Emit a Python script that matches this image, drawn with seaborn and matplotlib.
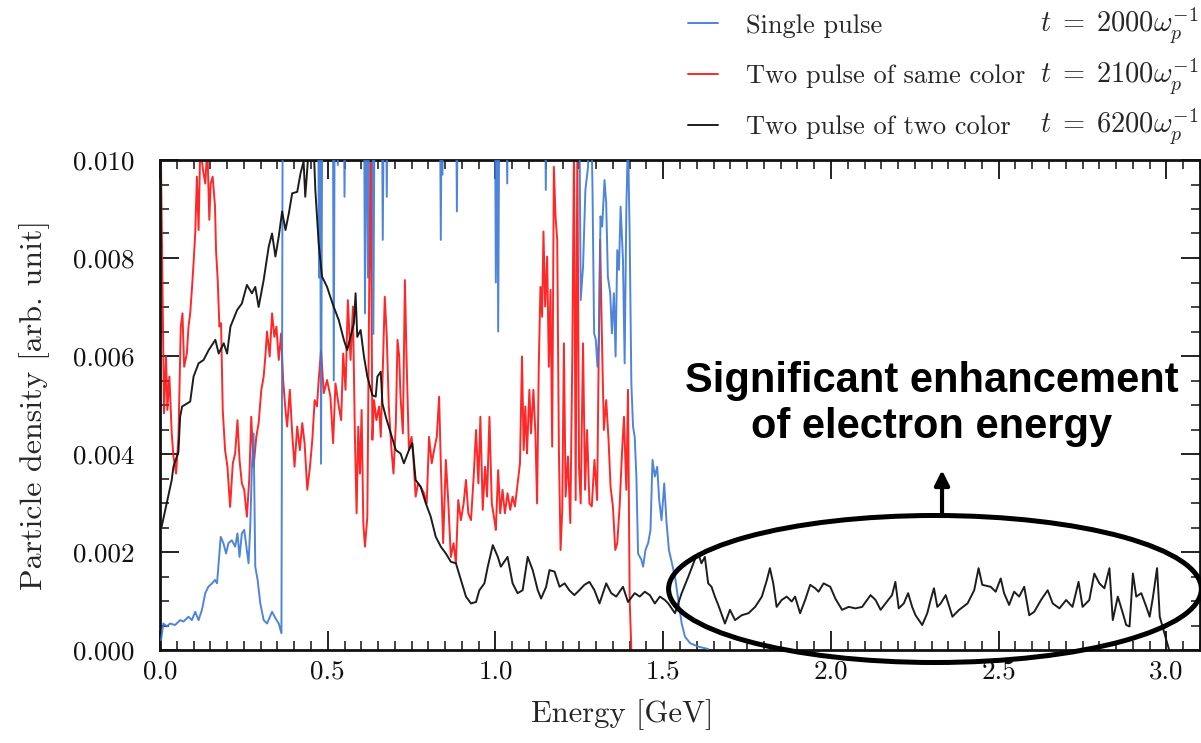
import numpy as np
import pandas as pd
import matplotlib
matplotlib.use("Agg")
import matplotlib.pyplot as plt
from matplotlib.patches import Ellipse
from matplotlib.ticker import MultipleLocator, FormatStrFormatter
import seaborn as sns

# ---------------------------------------------------------------------------
# Electron energy spectra (density in units of 1e-3, energy in GeV).
# Values above 10 lie outside the plotted range.
# ---------------------------------------------------------------------------
single_energy = [
    0.003, 0.010, 0.020, 0.030, 0.045, 0.060, 0.070, 0.085, 0.095, 0.105,
    0.115, 0.125, 0.135, 0.144, 0.155, 0.164, 0.170, 0.174, 0.181, 0.189,
    0.197, 0.204, 0.214, 0.224, 0.231, 0.237, 0.244, 0.251, 0.259, 0.264,
    0.269, 0.274, 0.279, 0.284, 0.291, 0.299, 0.309, 0.319, 0.334, 0.344,
    0.354, 0.362, 0.366,
    0.471, 0.474, 0.477, 0.480, 0.484, 0.515, 0.518, 0.521, 0.527, 0.530,
    0.533, 0.547, 0.550, 0.553, 0.608, 0.611, 0.615, 0.620, 0.624, 0.633,
    0.636, 0.640, 0.661, 0.664, 0.668, 0.673, 0.676, 0.679, 0.834, 0.837,
    0.840, 0.842, 0.846, 0.882, 0.885, 0.888, 0.998, 1.001, 1.005, 1.008,
    1.012, 1.032, 1.035, 1.038, 1.147, 1.150, 1.153, 1.249,
    1.254, 1.261, 1.268, 1.276, 1.282, 1.289, 1.294, 1.299, 1.304, 1.309,
    1.313, 1.318, 1.325, 1.330, 1.335, 1.342, 1.347, 1.353, 1.358, 1.363,
    1.368, 1.373, 1.380, 1.385, 1.390, 1.395, 1.400, 1.405, 1.410, 1.415,
    1.420, 1.425, 1.435, 1.440, 1.447, 1.455, 1.462, 1.468, 1.475, 1.482,
    1.488, 1.495, 1.503, 1.510, 1.517, 1.525, 1.535, 1.545, 1.555, 1.565,
    1.580, 1.604, 1.634,
]
single_density = [
    0.20, 0.54, 0.48, 0.54, 0.51, 0.61, 0.58, 0.68, 0.61, 0.78,
    0.61, 0.82, 1.16, 1.29, 1.36, 1.43, 1.36, 1.70, 2.31, 2.18,
    1.97, 2.18, 2.24, 2.11, 2.38, 1.90, 2.38, 2.45, 2.04, 1.77,
    2.52, 3.74, 4.42, 1.70, 1.43, 0.95, 0.61, 0.54, 0.78, 0.65,
    0.54, 0.34, 12.0,
    12.0, 7.60, 11.0, 3.80, 12.0, 12.0, 5.50, 12.0, 12.0, 9.90,
    12.0, 12.0, 9.25, 12.0, 12.0, 6.87, 12.0, 7.60, 12.0, 12.0,
    6.45, 12.0, 12.0, 8.37, 12.0, 12.0, 9.25, 12.0, 12.0, 8.37,
    12.0, 9.70, 12.0, 12.0, 8.95, 12.0, 12.0, 7.50, 12.0, 6.50,
    12.0, 12.0, 9.52, 12.0, 12.0, 9.39, 12.0, 12.0,
    7.14, 7.82, 9.39, 9.86, 12.0, 9.52, 6.46, 6.33, 5.78, 6.46,
    8.85, 8.64, 9.59, 9.12, 7.62, 7.28, 6.46, 7.28, 5.99, 8.16,
    7.76, 9.05, 7.96, 5.85, 8.98, 10.5, 8.43, 5.44, 4.56, 4.35,
    3.54, 1.97, 1.84, 1.70, 2.04, 2.18, 2.45, 3.88, 3.54, 3.74,
    3.06, 2.65, 3.40, 2.59, 2.04, 1.80, 1.50, 1.02, 0.54, 0.27,
    0.14, 0.07, 0.02,
]

same_color_energy = [
    0.002, 0.008, 0.012, 0.018, 0.022, 0.028, 0.035, 0.040, 0.048, 0.055,
    0.062, 0.067, 0.072, 0.080, 0.085, 0.090, 0.095, 0.100, 0.105, 0.110,
    0.115, 0.120, 0.128, 0.135, 0.141, 0.147, 0.151, 0.157, 0.164, 0.167,
    0.172, 0.177, 0.182, 0.187, 0.194, 0.201, 0.209, 0.217, 0.224, 0.231,
    0.237, 0.244, 0.251, 0.259, 0.266, 0.272, 0.279, 0.287, 0.294, 0.302,
    0.309, 0.314, 0.319, 0.327, 0.334, 0.341, 0.347, 0.354, 0.361, 0.367,
    0.374, 0.379, 0.387, 0.394, 0.401, 0.409, 0.417, 0.424, 0.431, 0.439,
    0.447, 0.454, 0.461, 0.468, 0.473, 0.480, 0.488, 0.498, 0.508, 0.516,
    0.523, 0.533, 0.540, 0.546, 0.553, 0.560, 0.568, 0.575, 0.581, 0.586,
    0.591, 0.596, 0.601, 0.606, 0.611, 0.618, 0.625, 0.628, 0.633, 0.638,
    0.645, 0.653, 0.658, 0.663, 0.670, 0.676, 0.682, 0.690, 0.696, 0.703,
    0.708, 0.713, 0.717, 0.724, 0.730, 0.735, 0.742, 0.750, 0.755, 0.762,
    0.769, 0.777, 0.787, 0.795, 0.802, 0.810, 0.817, 0.825, 0.832, 0.837,
    0.844, 0.852, 0.859, 0.867, 0.875, 0.882, 0.889, 0.897, 0.905, 0.912,
    0.919, 0.927, 0.935, 0.942, 0.949, 0.955, 0.962, 0.969, 0.975, 0.982,
    0.989, 0.997, 1.001, 1.008, 1.014, 1.021, 1.028, 1.036, 1.044, 1.051,
    1.058, 1.066, 1.073, 1.079, 1.084, 1.089, 1.094, 1.101, 1.106, 1.113,
    1.119, 1.124, 1.129, 1.134, 1.139, 1.143, 1.148, 1.154, 1.159, 1.164,
    1.169, 1.174, 1.179, 1.184, 1.189, 1.194, 1.199, 1.204, 1.209, 1.216,
    1.223, 1.229, 1.234, 1.239, 1.244, 1.249, 1.254, 1.261, 1.267, 1.273,
    1.280, 1.287, 1.295, 1.303, 1.308, 1.312, 1.317, 1.323, 1.330, 1.337,
    1.343, 1.350, 1.357, 1.363, 1.370, 1.377, 1.383, 1.390, 1.395, 1.400,
    1.405,
]
same_color_density = [
    10.5, 7.14, 4.83, 5.99, 4.90, 5.58, 4.42, 3.95, 3.60, 4.35,
    6.60, 6.87, 5.78, 6.05, 6.60, 6.87, 7.35, 7.89, 8.50, 9.66,
    8.57, 10.3, 9.80, 9.52, 10.3, 8.78, 9.52, 9.66, 9.05, 8.16,
    7.55, 6.60, 6.67, 4.90, 4.08, 3.74, 2.92, 3.81, 4.01, 4.69,
    3.88, 3.40, 3.27, 2.72, 3.47, 4.76, 3.74, 4.35, 4.63, 5.31,
    5.58, 5.99, 6.50, 5.99, 6.87, 6.39, 6.60, 5.92, 6.46, 5.51,
    4.90, 4.56, 5.31, 4.42, 3.74, 4.56, 4.08, 4.63, 4.22, 3.27,
    3.74, 4.29, 5.10, 4.97, 5.51, 6.12, 5.24, 5.51, 5.17, 4.22,
    5.44, 4.97, 4.69, 6.05, 5.31, 7.14, 5.92, 7.01, 4.35, 2.79,
    4.56, 3.60, 4.90, 2.59, 2.11, 2.72, 8.50, 10.3, 4.29, 5.10,
    4.69, 4.97, 4.35, 5.44, 7.21, 6.39, 4.97, 4.08, 3.60, 4.63,
    6.33, 5.99, 5.17, 4.42, 7.55, 5.92, 4.08, 4.35, 3.95, 3.13,
    3.40, 3.33, 3.20, 2.99, 4.35, 3.81, 4.08, 4.35, 5.17, 3.81,
    2.18, 3.88, 3.06, 1.90, 2.18, 1.77, 3.06, 2.65, 2.99, 3.47,
    2.79, 2.65, 3.54, 4.49, 3.40, 4.76, 2.86, 3.74, 3.13, 4.76,
    2.99, 2.65, 2.45, 3.67, 2.79, 3.27, 2.79, 3.20, 2.86, 3.13,
    2.93, 3.40, 3.81, 5.99, 4.08, 4.97, 4.01, 5.31, 4.42, 5.31,
    4.42, 2.99, 5.78, 7.41, 6.80, 8.54, 7.01, 8.03, 5.78, 7.35,
    4.15, 9.86, 8.85, 8.37, 4.08, 2.04, 2.86, 6.26, 3.13, 3.95,
    2.59, 5.99, 10.3, 3.06, 10.3, 3.74, 2.99, 6.26, 3.27, 4.49,
    2.99, 2.93, 3.88, 3.06, 6.26, 8.37, 6.46, 4.49, 5.10, 4.29,
    3.33, 2.93, 2.04, 2.18, 2.93, 4.01, 4.76, 3.27, 5.31, 1.02,
    0.00,
]

two_color_energy = [
    0.005, 0.020, 0.035, 0.040, 0.055, 0.060, 0.066, 0.090, 0.100, 0.115,
    0.130, 0.145, 0.165, 0.175, 0.190, 0.200, 0.210, 0.230, 0.244, 0.259,
    0.274, 0.284, 0.294, 0.309, 0.324, 0.334, 0.344, 0.354, 0.364, 0.374,
    0.384, 0.394, 0.409, 0.419, 0.428, 0.433, 0.443, 0.458, 0.463, 0.473,
    0.483, 0.498, 0.508, 0.518, 0.533, 0.548, 0.558, 0.578, 0.583, 0.588,
    0.598, 0.608, 0.618, 0.633, 0.643, 0.648, 0.658, 0.663, 0.673, 0.688,
    0.703, 0.717, 0.727, 0.742, 0.752, 0.762, 0.777, 0.792, 0.807, 0.822,
    0.837, 0.852, 0.867, 0.882, 0.897, 0.912, 0.927, 0.942, 0.952, 0.967,
    0.977, 0.992, 1.007, 1.016, 1.036, 1.051, 1.066, 1.081, 1.096, 1.111,
    1.126, 1.136, 1.151, 1.161, 1.176, 1.191, 1.206, 1.220, 1.235, 1.250,
    1.265, 1.280, 1.295, 1.310, 1.330, 1.345, 1.360, 1.380, 1.395, 1.415,
    1.430, 1.445, 1.460, 1.475, 1.490, 1.505, 1.515, 1.525, 1.535, 1.555,
    1.575, 1.594, 1.604, 1.614, 1.624, 1.634, 1.644, 1.654, 1.664, 1.684,
    1.699, 1.714, 1.734, 1.754, 1.774, 1.794, 1.809, 1.818, 1.828, 1.838,
    1.853, 1.868, 1.883, 1.893, 1.908, 1.923, 1.938, 1.953, 1.963, 1.978,
    1.998, 2.013, 2.033, 2.053, 2.073, 2.093, 2.118, 2.133, 2.148, 2.167,
    2.182, 2.192, 2.202, 2.217, 2.230, 2.242, 2.252, 2.272, 2.287, 2.297,
    2.307, 2.317, 2.327, 2.342, 2.362, 2.382, 2.407, 2.427, 2.440, 2.451,
    2.476, 2.491, 2.506, 2.516, 2.531, 2.546, 2.561, 2.576, 2.591, 2.606,
    2.626, 2.646, 2.661, 2.681, 2.701, 2.720, 2.738, 2.750, 2.770, 2.785,
    2.800, 2.815, 2.830, 2.840, 2.855, 2.870, 2.880, 2.890, 2.900, 2.910,
    2.925, 2.940, 2.950, 2.960, 2.972, 2.980, 2.990, 3.000, 3.008,
]
two_color_density = [
    2.52, 3.00, 3.47, 3.74, 4.05, 4.76, 4.97, 5.07, 5.58, 5.85,
    5.92, 6.12, 6.33, 6.05, 6.26, 6.05, 6.60, 6.94, 7.07, 7.45,
    7.28, 7.41, 7.00, 7.55, 8.23, 8.50, 8.03, 8.44, 8.95, 8.57,
    8.91, 9.32, 9.35, 9.73, 9.97, 9.25, 10.2, 10.3, 9.39, 8.30,
    7.62, 7.41, 7.20, 7.00, 6.73, 6.33, 6.12, 6.67, 7.28, 6.39,
    6.53, 5.99, 5.58, 5.20, 5.17, 5.58, 5.68, 5.03, 4.76, 4.42,
    4.08, 4.01, 3.81, 4.08, 4.22, 3.47, 3.33, 3.00, 2.72, 2.31,
    2.11, 1.97, 1.80, 1.77, 1.43, 1.09, 0.95, 0.98, 1.22, 1.36,
    1.70, 2.14, 1.90, 1.70, 1.90, 1.36, 1.16, 1.22, 1.90, 1.63,
    1.22, 1.05, 1.29, 1.63, 1.60, 1.29, 1.36, 1.22, 1.12, 1.22,
    1.33, 1.39, 1.22, 0.95, 1.36, 1.16, 1.09, 1.29, 0.98, 1.16,
    1.09, 1.19, 1.12, 0.95, 1.09, 1.02, 0.95, 0.85, 0.75, 1.16,
    1.50, 1.84, 1.97, 1.77, 1.90, 1.36, 1.29, 1.09, 0.92, 0.54,
    0.82, 0.61, 0.71, 0.75, 0.88, 1.09, 1.43, 1.67, 1.36, 0.88,
    1.02, 1.09, 0.99, 1.09, 0.75, 1.02, 1.33, 1.26, 1.19, 1.36,
    1.29, 1.05, 0.82, 0.88, 0.85, 0.88, 1.12, 1.02, 0.82, 0.99,
    1.12, 1.39, 0.85, 0.95, 1.16, 0.88, 0.71, 0.51, 0.75, 1.02,
    1.26, 0.88, 0.95, 1.12, 0.68, 0.82, 0.95, 1.22, 1.67, 1.33,
    1.29, 1.19, 1.46, 1.16, 0.92, 1.19, 1.09, 1.29, 0.71, 0.78,
    1.02, 1.22, 0.95, 0.85, 1.02, 0.88, 1.39, 0.88, 1.02, 1.56,
    1.36, 1.26, 1.67, 0.61, 1.09, 0.75, 0.51, 0.48, 1.56, 1.09,
    1.16, 0.88, 0.68, 1.09, 1.67, 0.68, 0.44, 0.20, 0.00,
]

series_labels = ["Single pulse", "Two pulse of same color", "Two pulse of two color"]
time_labels = [r"$t\;=\;2000\omega_p^{-1}$", r"$t\;=\;2100\omega_p^{-1}$",
               r"$t\;=\;6200\omega_p^{-1}$"]
series_colors = ["#3b78d8", "#ff1010", "#111111"]

x_ticks = [0.0, 0.5, 1.0, 1.5, 2.0, 2.5, 3.0]
y_ticks = [0.000, 0.002, 0.004, 0.006, 0.008, 0.010]

# ---------------------------------------------------------------------------
sns.set_theme(style="ticks")
plt.rcParams["font.family"] = ["cmr10", "DejaVu Serif"]
plt.rcParams["mathtext.fontset"] = "cm"
plt.rcParams["axes.formatter.use_mathtext"] = True
plt.rcParams["axes.unicode_minus"] = False

W, H = 1201, 743
fig = plt.figure(figsize=(W / 100, H / 100), dpi=100)
ax = fig.add_axes([160 / W, 1 - 650 / H, (1200 - 160) / W, (650 - 160) / H])

frames = []
for lab, e, d in zip(series_labels,
                     [single_energy, same_color_energy, two_color_energy],
                     [single_density, same_color_density, two_color_density]):
    frames.append(pd.DataFrame({"Energy": e, "Density": np.array(d) * 1e-3, "Case": lab}))

draw_order = [1, 0, 2]   # red underneath, then blue, black on top
z = {1: 2, 0: 3, 2: 4}
alphas = {0: 0.9, 1: 0.9, 2: 0.95}
handles = {}
for i in draw_order:
    sns.lineplot(data=frames[i], x="Energy", y="Density", ax=ax,
                 color=series_colors[i], linewidth=1.4, alpha=alphas[i],
                 estimator=None, sort=False, label=series_labels[i], zorder=z[i])
for line in ax.get_lines():
    handles[line.get_label()] = line
if ax.legend_:
    ax.legend_.remove()

ax.set_xlim(0, 3.1)
ax.set_ylim(0, 0.010)
ax.set_xticks(x_ticks)
ax.set_yticks(y_ticks)
ax.xaxis.set_minor_locator(MultipleLocator(0.05))
ax.yaxis.set_minor_locator(MultipleLocator(0.0005))
ax.xaxis.set_major_formatter(FormatStrFormatter("%.1f"))
ax.yaxis.set_major_formatter(FormatStrFormatter("%.3f"))
ax.tick_params(which="both", direction="in", top=True, right=True, colors="#111111")
ax.tick_params(which="major", length=14, width=1.3, labelsize=19.5)
ax.tick_params(which="minor", length=6.5, width=1.1)
ax.tick_params(axis="y", which="major", pad=18)
ax.tick_params(axis="x", which="major", pad=7)
for s in ax.spines.values():
    s.set_linewidth(2.0)
    s.set_color("#111111")

ax.set_xlabel("Energy [GeV]", fontsize=22)
ax.set_ylabel("Particle density [arb. unit]", fontsize=23)
ax.xaxis.set_label_coords((622 - 160) / 1040, -(699 - 650) / 490)
ax.yaxis.set_label_coords(-(160 - 50) / 1040, 0.5)

# legend above the axes, with simulation times in a separate column
leg_handles = [handles[l] for l in series_labels]
fig.legend(leg_handles, series_labels, loc="upper left",
           bbox_to_anchor=(688 / W, 1 - 14 / H), bbox_transform=fig.transFigure,
           frameon=False, fontsize=19, handlelength=1.15, handletextpad=1.05,
           labelspacing=1.02, borderpad=0, borderaxespad=0)
for lbl, yb in zip(time_labels, [32, 83, 133]):
    fig.text(1040 / W, 1 - yb / H, lbl, fontsize=20.5, ha="left", va="baseline")

# highlighted high-energy tail
ax.add_patch(Ellipse((2.31, 1.245e-3), width=1.588, height=3.0e-3, fill=False,
                     lw=3.6, ec="black", clip_on=False, zorder=6))
ax.annotate("", xy=(2.331, 3.67e-3), xytext=(2.331, 2.76e-3),
            arrowprops=dict(arrowstyle="-|>", lw=3, color="black",
                            mutation_scale=22, shrinkA=0, shrinkB=0),
            annotation_clip=False, zorder=6)
ax.text(2.30, 5.02e-3, "Significant enhancement\nof electron energy",
        ha="center", va="center", fontsize=30, fontweight="bold",
        family="Liberation Sans", linespacing=1.2, color="black", zorder=7)

fig.savefig("out.png", dpi=100)
